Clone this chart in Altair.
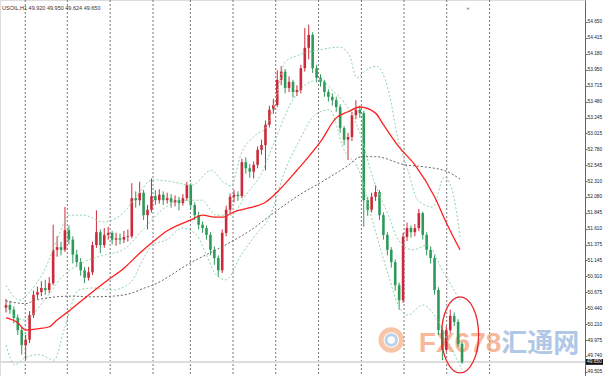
import altair as alt
import pandas as pd

# ---------------- data ----------------
header_text = "USOIL,H1  49.920 49.950 49.624 49.650"
first_open = 50.45
closes = [50.49, 50.42, 50.30, 50.12, 49.90, 49.98, 50.34, 50.64, 50.68, 50.74,
          50.71, 50.81, 51.30, 51.34, 51.30, 51.59, 51.45, 51.23, 51.12, 51.00,
          50.89, 50.97, 51.37, 51.56, 51.37, 51.52, 51.55, 51.45, 51.47, 51.45,
          51.49, 51.50, 52.06, 52.03, 52.14, 51.81, 51.89, 52.09, 52.03, 52.11,
          52.03, 52.06, 52.00, 52.03, 51.99, 52.06, 52.25, 51.96, 51.81, 51.67,
          51.62, 51.52, 51.30, 51.18, 51.00, 51.55, 51.89, 52.08, 52.11, 52.09,
          52.59, 52.50, 52.45, 52.55, 52.77, 52.84, 53.14, 53.36, 53.43, 53.80,
          53.92, 53.68, 53.77, 53.62, 53.65, 53.97, 54.27, 54.46, 53.97, 53.83,
          53.77, 53.62, 53.55, 53.50, 53.40, 53.09, 52.92, 52.96, 53.28, 53.36,
          53.31, 52.03, 51.89, 52.08, 52.15, 51.81, 51.52, 51.30, 51.12, 50.78,
          50.56, 51.49, 51.62, 51.56, 51.62, 51.84, 51.52, 51.30, 51.18, 50.71,
          50.12, 49.83, 50.12, 50.33, 50.24, 49.92, 49.65]
highs = [50.58, 50.55, 50.47, 50.35, 50.18, 50.05, 50.40, 50.70, 50.76, 50.84,
         50.86, 50.90, 51.67, 51.50, 51.42, 51.93, 51.66, 51.50, 51.30, 51.18,
         51.05, 51.05, 51.42, 51.88, 51.60, 51.62, 51.64, 51.58, 51.55, 51.54,
         51.58, 51.60, 52.28, 52.16, 52.30, 52.18, 51.96, 52.35, 52.18, 52.19,
         52.16, 52.14, 52.12, 52.10, 52.08, 52.12, 52.30, 52.28, 52.00, 51.86,
         51.72, 51.66, 51.56, 51.35, 51.22, 51.60, 51.95, 52.13, 52.18, 52.16,
         52.64, 52.66, 52.56, 52.60, 52.82, 52.92, 53.20, 53.42, 53.52, 53.94,
         54.00, 53.96, 53.85, 53.80, 53.72, 54.02, 54.56, 54.61, 54.50, 54.02,
         53.88, 53.80, 53.66, 53.60, 53.55, 53.44, 53.12, 53.02, 53.33, 53.50,
         53.42, 53.34, 52.08, 52.14, 52.25, 52.18, 51.85, 51.56, 51.34, 51.16,
         50.82, 51.55, 51.70, 51.66, 51.68, 51.90, 51.86, 51.56, 51.35, 51.22,
         50.75, 50.16, 50.18, 50.42, 50.38, 50.28, 49.95]
lows = [50.38, 50.36, 50.22, 50.05, 49.76, 49.68, 49.93, 50.30, 50.58, 50.62,
        50.64, 50.66, 50.78, 51.20, 51.22, 51.27, 51.38, 51.10, 51.05, 50.92,
        50.81, 50.85, 50.93, 51.33, 51.25, 51.33, 51.45, 51.38, 51.36, 51.38,
        51.40, 51.42, 51.47, 51.92, 51.95, 51.74, 51.60, 51.85, 51.96, 51.98,
        51.96, 51.98, 51.92, 51.94, 51.88, 51.95, 52.02, 51.90, 51.74, 51.60,
        51.55, 51.45, 51.22, 51.08, 50.90, 50.96, 51.50, 51.84, 52.00, 52.02,
        52.06, 52.42, 52.36, 52.35, 52.50, 52.70, 52.47, 53.10, 53.30, 53.40,
        53.72, 53.60, 53.62, 53.54, 53.56, 53.60, 53.92, 54.10, 53.90, 53.76,
        53.70, 53.55, 53.48, 53.42, 53.33, 53.02, 52.84, 52.62, 52.90, 53.22,
        53.24, 51.64, 51.80, 51.85, 52.02, 51.74, 51.45, 51.22, 51.04, 50.70,
        50.42, 50.52, 51.43, 51.48, 51.50, 51.58, 51.45, 51.22, 51.10, 50.64,
        50.05, 49.68, 49.80, 50.08, 50.18, 49.88, 49.624]

red_ma_bar = [0, 3, 5, 8, 11, 13, 16, 20, 26, 30, 34, 37, 41, 47, 50, 53, 55, 58, 62, 66,
              69, 74, 80, 84, 87, 90, 94, 96, 100, 104, 109, 112, 115.5]
red_ma_val = [50.30, 50.23, 50.12, 50.14, 50.17, 50.27, 50.40, 50.59, 50.86, 51.03,
              51.25, 51.40, 51.58, 51.74, 51.81, 51.78, 51.78, 51.86, 51.92, 52.00,
              52.15, 52.47, 52.89, 53.24, 53.33, 53.40, 53.31, 53.14, 52.81, 52.55,
              52.08, 51.70, 51.30]

black_ma_bar = [0, 5, 7.5, 16.5, 21.5, 27.25, 32.25, 34.75, 37.25, 47.25, 54.75, 62.25,
                68.5, 75.5, 79.75, 86.5, 90.5, 94, 101.5, 106.5, 112.25, 115.5]
black_ma_val = [50.55, 50.51, 50.56, 50.62, 50.61, 50.62, 50.67, 50.73, 50.78, 51.12, 51.34,
                51.59, 51.86, 52.14, 52.28, 52.52, 52.67, 52.67, 52.55, 52.52, 52.45, 52.34]

upper_bar = [0, 3.5, 6, 9.75, 13.5, 16, 19.75, 24.75, 29.75, 33.5, 37.25, 42.25, 47.25,
             52.25, 55.25, 57.25, 59.75, 63.5, 66, 68.5, 71, 74.75, 79.75, 84.75, 87.25,
             89.25, 91.5, 94.25, 97.25, 99.75, 102.25, 104.75, 108.5, 111.5, 113.5, 115.5]
upper_val = [50.78, 50.56, 50.68, 51.00, 51.52, 51.81, 51.81, 51.71, 51.84, 52.11, 52.33,
             52.30, 52.25, 52.47, 52.30, 52.24, 52.70, 52.99, 53.09, 53.50, 54.06, 54.17,
             54.24, 54.28, 54.17, 53.83, 53.94, 54.00, 53.65, 52.92, 52.47, 52.03, 51.93,
             52.37, 52.18, 51.49]

middle_bar = [0, 4.75, 9.75, 14.75, 19.75, 24.75, 29.75, 34.75, 39.75, 44.75, 49.75, 53.5,
              57.25, 61, 64.75, 68.5, 72.25, 76, 79.75, 83.5, 86, 89.75, 93.5, 97.25, 99.75,
              103.5, 107.25, 111, 115.5]
middle_val = [50.42, 50.27, 50.56, 50.93, 51.12, 51.22, 51.30, 51.59, 51.89, 52.03, 52.03,
              51.81, 51.81, 52.11, 52.40, 52.92, 53.43, 53.72, 53.80, 53.62, 53.47, 53.06,
              52.33, 51.81, 51.45, 51.30, 51.37, 51.00, 50.56]

lower_bar = [0, 2.25, 4.75, 8.5, 12.25, 14.75, 18.5, 22.25, 27.25, 29.75, 32.25, 34.75,
             37.25, 41, 44.75, 48.5, 51, 53.5, 56, 59.75, 63.5, 67.25, 71, 74.75, 78.5,
             82.25, 86, 89.75, 93.5, 97.25, 99.75, 102.25, 106, 109.75, 113.5, 116]
lower_val = [49.90, 49.61, 49.71, 49.76, 49.68, 50.12, 50.71, 50.74, 50.71, 50.75, 50.86,
             51.15, 51.37, 51.45, 51.62, 51.52, 51.22, 50.93, 50.86, 51.22, 51.52, 51.81,
             52.47, 52.92, 53.28, 53.36, 52.77, 52.47, 51.67, 50.93, 50.49, 50.34, 50.49,
             50.27, 49.83, 49.54]

axis_values = [54.650, 54.415, 54.180, 53.950, 53.715, 53.480, 53.245, 53.015, 52.780,
               52.545, 52.310, 52.080, 51.845, 51.610, 51.375, 51.145, 50.910, 50.675,
               50.440, 50.210, 49.975, 49.740, 49.505]
grid_bars = [4.9, 15.6, 26.5, 37.4, 46.9, 57.75, 68.6, 79.5, 90.4, 101.25, 112.1, 123.0]
last_price = 49.650

# annotations (bar, price)
circle_bar, circle_price = 115.5, 50.05
wm_logo_bar, wm_logo_price = 98.0, 49.975
wm_fx_bar, wm_cn_bar, wm_price = 105.0, 126.0, 49.80

assert len(closes) == len(highs) == len(lows)
assert len(red_ma_bar) == len(red_ma_val)
assert len(black_ma_bar) == len(black_ma_val)
assert len(upper_bar) == len(upper_val)
assert len(middle_bar) == len(middle_val)
assert len(lower_bar) == len(lower_val)

# ---------------- tables ----------------
n = len(closes)
opens = [first_open] + closes[:-1]
candles = pd.DataFrame({"bar": list(range(n)), "open": opens, "close": closes,
                        "high": highs, "low": lows})
candles["dir"] = ["up" if c >= o else "down" for o, c in zip(opens, closes)]

bands = pd.concat([
    pd.DataFrame({"name": "upper", "bar": upper_bar, "val": upper_val}),
    pd.DataFrame({"name": "middle", "bar": middle_bar, "val": middle_val}),
    pd.DataFrame({"name": "lower", "bar": lower_bar, "val": lower_val}),
])
red_ma = pd.DataFrame({"bar": red_ma_bar, "val": red_ma_val})
black_ma = pd.DataFrame({"bar": black_ma_bar, "val": black_ma_val})

xs = alt.Scale(domain=[-0.25, 146.0], nice=False, zero=False)
ys = alt.Scale(domain=[49.446, 54.973], nice=False, zero=False)
yaxis = alt.Axis(orient="right", values=axis_values, format=".3f", title=None, grid=False,
                 labelFontSize=4.8, labelFont="Liberation Sans", labelColor="#222",
                 tickSize=2, tickColor="#666", domainColor="#666", labelPadding=0,
                 labelOverlap=False, labelFlush=False)


def X(f):
    return alt.X(f, type="quantitative", scale=xs, axis=None)


def Y(f):
    return alt.Y(f, type="quantitative", scale=ys, axis=yaxis)


cscale = alt.Scale(domain=["up", "down"], range=["#cc2a3a", "#2e9a5a"])

grid = alt.Chart(pd.DataFrame({"g": grid_bars})).mark_rule(
    strokeDash=[2, 2], color="#777", strokeWidth=1).encode(x=X("g"))

price_line = alt.Chart(pd.DataFrame({"p": [last_price]})).mark_rule(
    color="#dcdcdc", strokeWidth=2).encode(y=Y("p"))

wicks = alt.Chart(candles).mark_rule(strokeWidth=1).encode(
    x=X("bar"), y=Y("low"), y2="high",
    color=alt.Color("dir:N", scale=cscale, legend=None))
bodies = alt.Chart(candles).mark_bar(size=2.6).encode(
    x=X("bar"), y=Y("open"), y2="close",
    color=alt.Color("dir:N", scale=cscale, legend=None))

band_lines = alt.Chart(bands).mark_line(
    strokeDash=[2, 2], color="#8fd3a8", strokeWidth=1, interpolate="monotone").encode(
    x=X("bar"), y=Y("val"), detail="name:N")
black_line = alt.Chart(black_ma).mark_line(
    strokeDash=[2, 2], color="#666", strokeWidth=1, interpolate="monotone").encode(
    x=X("bar"), y=Y("val"))
red_line = alt.Chart(red_ma).mark_line(
    color="#ff1f1f", strokeWidth=1.3, interpolate="monotone").encode(
    x=X("bar"), y=Y("val"))

# watermark
logo_outer = alt.Chart(pd.DataFrame({"b": [wm_logo_bar], "p": [wm_logo_price]})).mark_point(
    shape="circle", filled=False, strokeWidth=5, color="#f5a06c", opacity=0.6, size=420
).encode(x=X("b"), y=Y("p"))
logo_inner = alt.Chart(pd.DataFrame({"b": [wm_logo_bar], "p": [wm_logo_price]})).mark_point(
    shape="circle", filled=False, strokeWidth=3, color="#8fb1dc", opacity=0.6, size=110
).encode(x=X("b"), y=Y("p"))
wm_fx = alt.Chart(pd.DataFrame({"b": [wm_fx_bar], "p": [wm_price]})).mark_text(
    text="FX678", align="left", baseline="alphabetic", font="Liberation Sans",
    fontWeight="bold", fontSize=28, color="#f39a70", opacity=0.7
).encode(x=X("b"), y=Y("p"))
wm_cn = alt.Chart(pd.DataFrame({"b": [wm_cn_bar], "p": [wm_price]})).mark_text(
    text="汇通网", align="left", baseline="alphabetic", font="Noto Sans CJK SC",
    fontWeight="bold", fontSize=26, color="#8fb1dc", opacity=0.7
).encode(x=X("b"), y=Y("p"))

ellipse_path = ("M0,-1 C0.269,-1 0.487,-0.552 0.487,0 C0.487,0.552 0.269,1 0,1 "
                "C-0.269,1 -0.487,0.552 -0.487,0 C-0.487,-0.552 -0.269,-1 0,-1 Z")
ellipse = alt.Chart(pd.DataFrame({"b": [circle_bar], "p": [circle_price]})).mark_point(
    shape=ellipse_path, filled=False, strokeWidth=1.3, color="#e8262a", opacity=1, size=5776
).encode(x=X("b"), y=Y("p"))

header = alt.Chart(pd.DataFrame({"t": [header_text]})).mark_text(
    align="left", baseline="middle", font="Liberation Sans", fontSize=5.5, color="#333"
).encode(x=alt.value(2), y=alt.value(8), text="t:N")

shift_marker = alt.Chart(pd.DataFrame({"t": [0]})).mark_point(
    shape="triangle-down", size=10, filled=True, color="#999", opacity=1
).encode(x=alt.value(468), y=alt.value(9))

box = alt.Chart(pd.DataFrame({"lo": [last_price - 0.04], "hi": [last_price + 0.045]})).mark_rect(
    color="#111").encode(x=alt.value(586), x2=alt.value(603), y=Y("lo"), y2="hi")
box_text = alt.Chart(pd.DataFrame({"p": [last_price]})).mark_text(
    text=f"{last_price:.3f}", align="left", baseline="middle", font="Liberation Sans",
    fontSize=4.8, color="white").encode(x=alt.value(587), y=Y("p"))

chart = alt.layer(
    grid, price_line, logo_outer, logo_inner, wm_fx, wm_cn,
    wicks, bodies, band_lines, black_line, red_line, ellipse,
    header, shift_marker, box, box_text
).properties(
    width=585, height=376, autosize="none",
    padding={"left": 0, "right": 18, "top": 0, "bottom": 0}
).configure_view(stroke=None).configure(background="white")

chart.save("out.html", embed_options={"renderer": "svg", "actions": False})
